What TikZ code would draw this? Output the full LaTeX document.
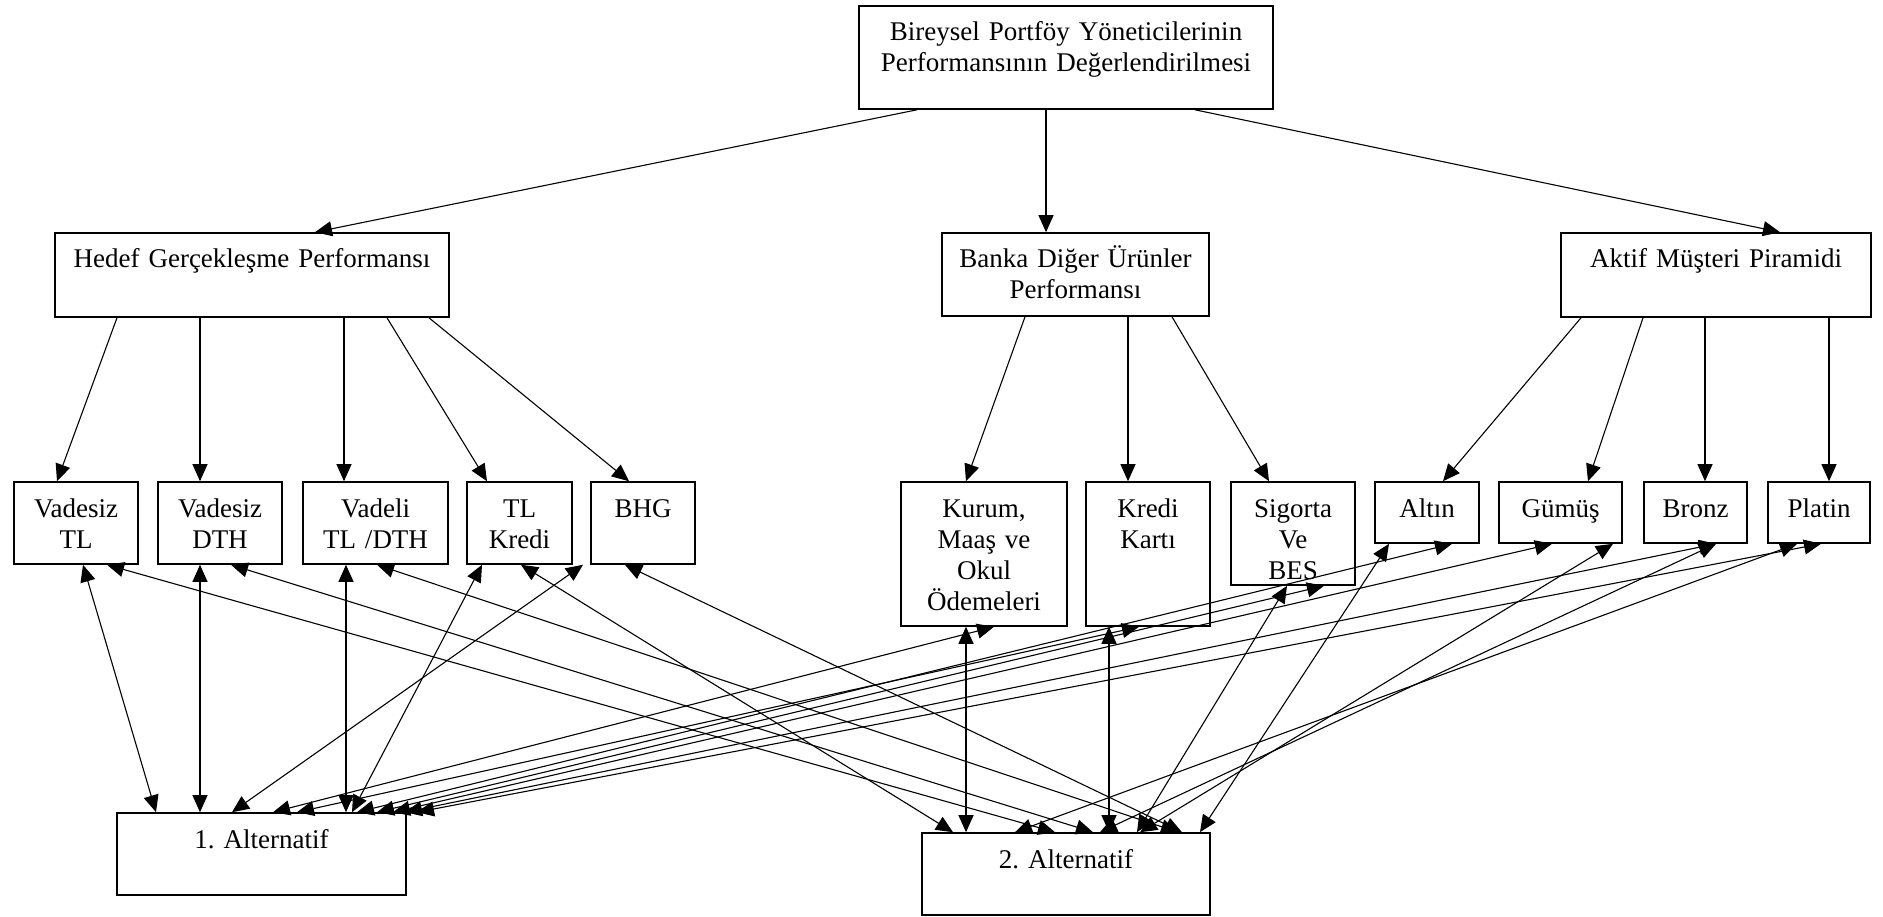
\documentclass[tikz,border=0pt]{standalone}
\usepackage{fontspec}
\setmainfont{Liberation Serif}
\usetikzlibrary{arrows.meta}
\frenchspacing

\begin{document}
\begin{tikzpicture}[
  x=1pt, y=-1pt,
  box/.style={draw, line width=1.6pt, inner sep=0pt, align=center, text height=35pt, font=\fontsize{27}{31}\selectfont},
  arrow/.style={-{Triangle[length=17pt, width=15pt]}, line width=1.1pt},
  link/.style={{Triangle[length=17pt, width=15pt]}-{Triangle[length=17pt, width=15pt]}, line width=1.1pt}
]

\useasboundingbox (0,0) rectangle (1883,917);

\node[box, text width=414pt, text depth=68pt] (goal) at (1066, 57.5) {Bireysel Portföy Yöneticilerinin\\Performansının Değerlendirilmesi};

\node[box, text width=394pt, text depth=49pt] (hedef) at (252, 275) {Hedef Gerçekleşme Performansı};
\node[box, text width=267pt, text depth=48pt] (banka) at (1075.5, 274.5) {Banka Diğer Ürünler\\Performansı};
\node[box, text width=310pt, text depth=49pt] (aktif) at (1716, 275) {Aktif Müşteri Piramidi};

\node[box, text width=124pt, text depth=47pt] (vtl) at (76, 523) {Vadesiz\\TL};
\node[box, text width=124pt, text depth=47pt] (vdth) at (220, 523) {Vadesiz\\DTH};
\node[box, text width=145pt, text depth=47pt] (vadeli) at (375.5, 523) {Vadeli\\TL /DTH};
\node[box, text width=105pt, text depth=47pt] (tlkredi) at (519.5, 523) {TL\\Kredi};
\node[box, text width=104pt, text depth=47pt] (bhg) at (643, 523) {BHG};

\node[box, text width=166pt, text depth=109pt] (kurum) at (984, 554) {Kurum,\\Maaş ve\\Okul\\Ödemeleri};
\node[box, text width=124pt, text depth=109pt] (kart) at (1148, 554) {Kredi\\Kartı};
\node[box, text width=124pt, text depth=68pt] (sigorta) at (1293, 533.5) {Sigorta\\Ve\\BES};

\node[box, text width=104pt, text depth=26pt] (altin) at (1427, 512.5) {Altın};
\node[box, text width=123pt, text depth=26pt] (gumus) at (1560.5, 512.5) {Gümüş};
\node[box, text width=103pt, text depth=26pt] (bronz) at (1695.5, 512.5) {Bronz};
\node[box, text width=102pt, text depth=26pt] (platin) at (1819, 512.5) {Platin};

\node[box, text width=289pt, text depth=47pt] (alt1) at (261.5, 854) {1. Alternatif};
\node[box, text width=288pt, text depth=47pt] (alt2) at (1066, 874) {2. Alternatif};

\draw[arrow] ([xshift=-149pt]goal.south) -- ([xshift=63pt]hedef.north);
\draw[arrow] ([xshift=-20pt]goal.south) -- ([xshift=-29.5pt]banka.north);
\draw[arrow] ([xshift=129pt]goal.south) -- ([xshift=64pt]aktif.north);

\draw[arrow] ([xshift=-135pt]hedef.south) -- ([xshift=-19pt]vtl.north);
\draw[arrow] ([xshift=-52pt]hedef.south) -- ([xshift=-20pt]vdth.north);
\draw[arrow] ([xshift=92pt]hedef.south) -- ([xshift=-31.5pt]vadeli.north);
\draw[arrow] ([xshift=135pt]hedef.south) -- ([xshift=-32.5pt]tlkredi.north);
\draw[arrow] ([xshift=177pt]hedef.south) -- ([xshift=-14pt]bhg.north);

\draw[arrow] ([xshift=-50.5pt]banka.south) -- ([xshift=-18pt]kurum.north);
\draw[arrow] ([xshift=52.5pt]banka.south) -- ([xshift=-20pt]kart.north);
\draw[arrow] ([xshift=96.5pt]banka.south) -- ([xshift=-24pt]sigorta.north);

\draw[arrow] ([xshift=-135pt]aktif.south) -- ([xshift=16pt]altin.north);
\draw[arrow] ([xshift=-73pt]aktif.south) -- ([xshift=27.5pt]gumus.north);
\draw[arrow] ([xshift=-11pt]aktif.south) -- ([xshift=9.5pt]bronz.north);
\draw[arrow] ([xshift=113pt]aktif.south) -- ([xshift=10pt]platin.north);

\draw[link] ([xshift=7pt]vtl.south) -- ([xshift=-105.5pt]alt1.north);
\draw[link] ([xshift=31pt]vtl.south) -- ([xshift=-11pt]alt2.north);
\draw[link] ([xshift=-20pt]vdth.south) -- ([xshift=-61.5pt]alt1.north);
\draw[link] ([xshift=11pt]vdth.south) -- ([xshift=27pt]alt2.north);
\draw[link] ([xshift=-29.5pt]vadeli.south) -- ([xshift=84.5pt]alt1.north);
\draw[link] ([xshift=1.5pt]vadeli.south) -- ([xshift=112pt]alt2.north);
\draw[link] ([xshift=-37.5pt]tlkredi.south) -- ([xshift=90.5pt]alt1.north);
\draw[link] ([xshift=1.5pt]tlkredi.south) -- ([xshift=-113pt]alt2.north);
\draw[link] ([xshift=-60pt]bhg.south) -- ([xshift=-29.5pt]alt1.north);
\draw[link] ([xshift=-18pt]bhg.south) -- ([xshift=116pt]alt2.north);

\draw[link] ([xshift=-18pt]kurum.south) -- ([xshift=-100pt]alt2.north);
\draw[link] ([xshift=10pt]kurum.south) -- ([xshift=11.5pt]alt1.north);
\draw[link] ([xshift=-39pt]kart.south) -- ([xshift=43pt]alt2.north);
\draw[link] ([xshift=-9pt]kart.south) -- ([xshift=35.5pt]alt1.north);
\draw[link] ([xshift=31pt]sigorta.south) -- ([xshift=115.5pt]alt1.north);
\draw[link] ([xshift=-6pt]sigorta.south) -- ([xshift=71pt]alt2.north);

\draw[link] ([xshift=25pt]altin.south) -- ([xshift=95.5pt]alt1.north);
\draw[link] ([xshift=-38pt]altin.south) -- ([xshift=134pt]alt2.north);
\draw[link] ([xshift=-8.5pt]gumus.south) -- ([xshift=131.5pt]alt1.north);
\draw[link] ([xshift=52.5pt]gumus.south) -- ([xshift=74pt]alt2.north);
\draw[link] ([xshift=20.5pt]bronz.south) -- ([xshift=143.5pt]alt1.north);
\draw[link] ([xshift=20.5pt]bronz.south) -- ([xshift=34pt]alt2.north);
\draw[link] ([xshift=2pt]platin.south) -- ([xshift=155.5pt]alt1.north);
\draw[link] ([xshift=-22pt]platin.south) -- ([xshift=-51pt]alt2.north);

\end{tikzpicture}
\end{document}
